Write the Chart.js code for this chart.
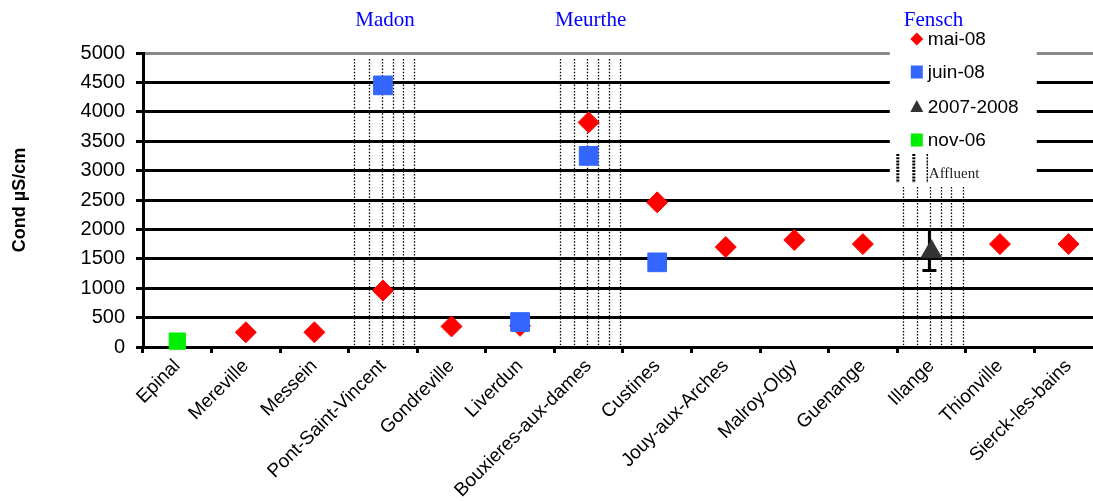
<!DOCTYPE html>
<html lang="fr">
<head>
  <meta charset="UTF-8">
  <title>Conductivité</title>
  <script src="https://cdn.jsdelivr.net/npm/chart.js"></script>
  <style>
    html, body {
      margin: 0;
      padding: 0;
      background: #fff;
      overflow: hidden;
    }
    #wrap {
      width: 1117px;
      height: 501px;
      position: relative;
    }
  </style>
</head>
<body>
<div id="wrap">
  <canvas id="condChart"></canvas>
</div>
<script>
  // stations along the river
  const stations = ['Epinal', 'Mereville', 'Messein', 'Pont-Saint-Vincent', 'Gondreville', 'Liverdun',
    'Bouxieres-aux-dames', 'Custines', 'Jouy-aux-Arches', 'Malroy-Olgy', 'Guenange', 'Illange',
    'Thionville', 'Sierck-les-bains'];

  // conductivity, µS/cm
  const mai08  = [null, 250, 250, 960, 350, 360, 3820, 2460, 1700, 1820, 1750, null, 1750, 1750];
  const juin08 = [null, null, null, 4450, null, 425, 3250, 1440, null, null, null, null, null, null];
  const y2007  = [null, null, null, null, null, null, null, null, null, null, null, 1620, null, null];
  const errLow  = [null, null, null, null, null, null, null, null, null, null, null, 1300, null, null];
  const errHigh = [null, null, null, null, null, null, null, null, null, null, null, 2000, null, null];
  const nov06  = [100, null, null, null, null, null, null, null, null, null, null, null, null, null];

  const yTicks = [0, 500, 1000, 1500, 2000, 2500, 3000, 3500, 4000, 4500, 5000];

  // tributaries (affluents) joining near a station
  const affluentNames = ['Madon', 'Meurthe', 'Fensch'];
  const affluentAt = [3, 6, 11];
  const affluentLines = [-0.42, -0.21, -0.02, 0.14, 0.29, 0.46];
  const affluentTop = 4900;

  const decorPlugin = {
    id: 'decor',
    beforeDatasetsDraw(chart) {
      const ctx = chart.ctx;
      const x = chart.scales.x, y = chart.scales.y;
      ctx.save();
      // dotted tributary lines
      ctx.strokeStyle = '#000';
      ctx.lineWidth = 1.3;
      ctx.setLineDash([1.5, 1.7]);
      affluentAt.forEach(idx => {
        affluentLines.forEach(off => {
          const px = Math.round(x.getPixelForValue(idx + off)) + 0.5;
          ctx.beginPath();
          ctx.moveTo(px, y.getPixelForValue(affluentTop));
          ctx.lineTo(px, y.getPixelForValue(0) - 2);
          ctx.stroke();
        });
      });
      ctx.setLineDash([]);
      // error bars
      ctx.lineWidth = 3;
      errLow.forEach((lo, i) => {
        if (lo === null) return;
        const px = x.getPixelForValue(i) - 2;
        const top = y.getPixelForValue(errHigh[i]);
        const bot = y.getPixelForValue(lo);
        ctx.beginPath();
        ctx.moveTo(px, top); ctx.lineTo(px, bot);
        ctx.moveTo(px - 7, top); ctx.lineTo(px + 7, top);
        ctx.moveTo(px - 7, bot); ctx.lineTo(px + 7, bot);
        ctx.stroke();
      });
      ctx.restore();
    },
    afterDraw(chart) {
      const ctx = chart.ctx;
      const area = chart.chartArea;
      const x = chart.scales.x;
      ctx.save();
      // tributary names
      ctx.fillStyle = '#0000FF';
      ctx.font = '21px "Liberation Serif", "Times New Roman", serif';
      ctx.textAlign = 'center';
      ctx.textBaseline = 'alphabetic';
      affluentAt.forEach((idx, k) => {
        ctx.fillText(affluentNames[k], x.getPixelForValue(idx + 0.03), area.top - 27);
      });

      // legend box
      const bx = area.right - 213, bw = 147;
      const by = area.top - 23, bh = 156;
      ctx.fillStyle = '#fff';
      ctx.fillRect(bx, by, bw, bh);

      const mx = area.right - 186;
      const tx = area.right - 175;
      const rows = [area.top - 14, area.top + 19, area.top + 54, area.top + 87, area.top + 120];
      ctx.font = '19px "Liberation Sans", Arial, sans-serif';
      ctx.textAlign = 'left';
      ctx.textBaseline = 'middle';

      chart.data.datasets.forEach((ds, k) => {
        const cy = rows[k];
        ctx.fillStyle = ds.backgroundColor;
        ctx.beginPath();
        if (ds.pointStyle === 'rectRot') {
          ctx.moveTo(mx - 6.5, cy); ctx.lineTo(mx, cy - 6.5);
          ctx.lineTo(mx + 6.5, cy); ctx.lineTo(mx, cy + 6.5);
        } else if (ds.pointStyle === 'triangle') {
          ctx.moveTo(mx, cy - 7); ctx.lineTo(mx + 6.5, cy + 5); ctx.lineTo(mx - 6.5, cy + 5);
        } else {
          ctx.rect(mx - 6, cy - 6.5, 12, 13);
        }
        ctx.closePath();
        ctx.fill();
        ctx.fillStyle = '#000';
        ctx.fillText(ds.label, tx, cy + 1);
      });

      // affluent legend entry
      const ay = rows[4];
      ctx.strokeStyle = '#000';
      ctx.setLineDash([2, 1.2]);
      [[mx - 19, 3], [mx - 3, 3], [mx + 10.5, 1.5]].forEach(([lx, lw]) => {
        ctx.lineWidth = lw;
        ctx.beginPath();
        ctx.moveTo(lx, ay - 19);
        ctx.lineTo(lx, ay + 10);
        ctx.stroke();
      });
      ctx.setLineDash([]);
      ctx.fillStyle = '#222';
      ctx.font = '15px "Liberation Serif", "Times New Roman", serif';
      ctx.textBaseline = 'alphabetic';
      ctx.fillText('Affluent', mx + 12, ay + 5);
      ctx.restore();
    }
  };

  const ctx = document.getElementById('condChart').getContext('2d');
  new Chart(ctx, {
    type: 'line',
    data: {
      labels: stations,
      datasets: [
        { label: 'mai-08', data: mai08, order: 3, pointStyle: 'rectRot', pointRadius: 10.5,
          backgroundColor: '#FF0000', borderColor: '#FF0000', borderWidth: 1 },
        { label: 'juin-08', data: juin08, order: 2, pointStyle: 'rect', pointRadius: 13.2,
          backgroundColor: '#3366FF', borderColor: '#3366FF', borderWidth: 1 },
        { label: '2007-2008', data: y2007, order: 1, pointStyle: 'triangle', pointRadius: 12,
          backgroundColor: '#333333', borderColor: '#333333', borderWidth: 1 },
        { label: 'nov-06', data: nov06, order: 0, pointStyle: 'rect', pointRadius: 11.5,
          backgroundColor: '#00EE00', borderColor: '#00EE00', borderWidth: 1 }
      ].map(ds => Object.assign(ds, { showLine: false, clip: false, pointHoverRadius: ds.pointRadius }))
    },
    options: {
      responsive: true,
      maintainAspectRatio: false,
      animation: false,
      devicePixelRatio: 1,
      layout: { padding: { top: 53, right: 0, left: 0, bottom: 0 } },
      plugins: {
        legend: { display: false },
        tooltip: { enabled: false }
      },
      scales: {
        x: {
          type: 'category',
          offset: true,
          afterFit: scale => { scale.height = 154; },
          grid: {
            offset: true,
            drawOnChartArea: false,
            drawTicks: true,
            tickLength: 6,
            lineWidth: 3,
            color: '#000'
          },
          border: { display: true, color: '#000', width: 3 },
          ticks: {
            autoSkip: false,
            minRotation: 45,
            maxRotation: 45,
            padding: 2,
            color: '#000',
            font: { family: '"Liberation Sans", Arial, sans-serif', size: 19 }
          }
        },
        y: {
          min: 0,
          max: 5000,
          afterFit: scale => { scale.width = 143; },
          afterBuildTicks: scale => { scale.ticks = yTicks.map(v => ({ value: v })); },
          grid: {
            color: c => (c.tick && c.tick.value === 5000) ? '#888888' : '#000000',
            tickColor: '#000',
            lineWidth: 3,
            tickLength: 7
          },
          border: { display: true, color: '#000', width: 3 },
          ticks: {
            padding: 11,
            color: '#000',
            callback: v => String(v),
            font: { family: '"Liberation Sans", Arial, sans-serif', size: 20 }
          },
          title: {
            display: true,
            text: 'Cond µS/cm',
            color: '#000',
            font: { family: '"Liberation Sans", Arial, sans-serif', size: 18, weight: 'bold' },
            padding: { top: 9, bottom: 10 }
          }
        }
      }
    },
    plugins: [decorPlugin]
  });
</script>
</body>
</html>
